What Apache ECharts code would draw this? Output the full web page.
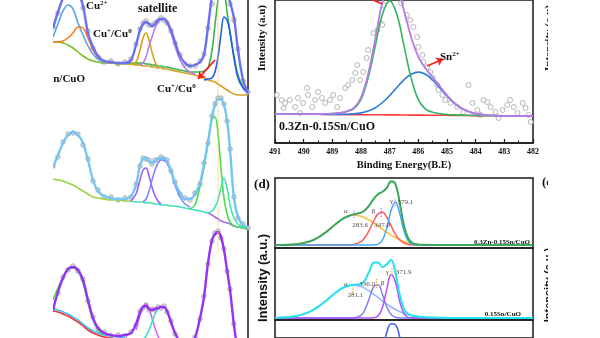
<!DOCTYPE html>
<html>
<head>
<meta charset="utf-8">
<script src="https://cdn.jsdelivr.net/npm/echarts@6/dist/echarts.min.js"></script>
<style>html,body{margin:0;padding:0;background:#ffffff;}#chart{width:600px;height:338px;}</style>
</head>
<body>
<div id="chart"></div>
<script>
// ===== Cu 2p XPS (left column): binding energy grid (eV) =====
const cuBE = [956.20,955.52,954.83,954.15,953.46,952.78,952.09,951.41,950.72,950.04,949.21,948.25,947.30,946.34,945.52,944.83,944.28,943.87,943.46,943.05,942.64,942.23,941.82,941.41,941.00,940.58,940.04,939.49,938.80,938.12,937.43,936.75,936.06,935.52,934.97,934.42,934.01,933.60,933.19,932.78,932.36,931.95,931.41,930.86,930.17,929.49];
const cuMainPeakBE = 933.6;

// spectrum A (0.3Zn-0.15Sn/CuO), intensities (a.u., stacked offset)
const A_fit   = [310,326,340,350,352,346,332,305,291,282,277,276,275,275,278,293,308,314,316,314,312,314,318,319,319,316,308,296,282,275,272,273,276,283,311,343,363,373,373,363,348,336,320,288,258,245];
const A_raw   = [311,325,null,null,null,null,330,307,290,281,276,277,274,276,279,294,309,315,317,313,313,315,317,320,318,315,307,295,283,274,272,272,277,284,310,334,null,null,null,null,null,334,318,289,257,246];
const A_cu2a  = [301,314,327,333,329,315,303,292,284,279,276,275];             // from index 0
const A_cu1a  = [296,296,297,300,305,311,310,300,288,281,277,275];             // from index 0
const A_bgL   = [296,296,295,293,290,286,282,279,277,276,275,275,274,274,274,274,273]; // from 0
const A_cu2b  = [275,275,275,275,275,274,274,273,273,272,272,271,271,270,269,268,267,266,266,266,267,270,288,313,338,353,348,326,306,282,263,251,246]; // from 13
const A_bgR   = [274,274,273,273,272,272,272,271,271,270,270,269,269,268,267,266,265,264,263,261,260,258,257,256,254,252,250,248,246,244,243,243,243]; // from 13
const A_cu1b  = [258,259,260,266,281,304,321,318,305,280,260,250,245];          // from 33
const A_sat1  = [274,276,288,300,305,298,286,276,271];                           // from 14
const A_sat2  = [273,275,281,292,301,310,316,319,319,315,305,292,278,270,266,264]; // from 16

// spectrum B
const B_fit   = [171,183,195,203,206,203,195,178,158,147,142,140,139,139,142,153,173,179,180,177,175,177,179,180,180,177,168,155,145,139,139,144,155,174,196,221,233,239,239,233,218,188,140,121,113,111];
const B_raw   = [172,181,196,204,205,204,193,179,157,148,141,141,138,140,141,154,172,180,179,178,174,178,178,181,179,178,167,156,144,140,138,145,154,175,195,222,234,240,240,234,217,189,141,120,114,110];
const B_main  = [129,133,152,171,195,219,221,205,170,140,124,116,112,111,110,109]; // from 30
const B_sub   = [125,127,131,138,150,160,150,133,120,114,111,110];              // from 34
const B_bg1   = [159,158,157,155,153,150,147,144,141,140,139,138,138,137,137];  // from 0
const B_bg2   = [137,136,136,136,135,135,135,134,134,133,133,133,132,132,131,130,129,128,127,126,125]; // from 14
const B_bg3   = [125,123,121,119,117,116,115,114,112,111,110,109];              // from 34
const B_sat1  = [137,144,158,168,170,162,151,142,137,134];                      // from 14
const B_sat2  = [136,139,147,158,168,175,178,178,175,166,153,141,134,131];      // from 17

// spectrum C
const C_fit   = [28,46,60,69,71,68,58,38,20,10,5,3,2,3,5,14,26,31,32,29,28,29,30,31,31,27,16,5,-4,-8,-7,0,20,41,75,98,104,106,101,88,68,48,13,-12,-22,-24];
const C_raw   = [29,45,61,68,72,67,59,37,21,9,6,2,3,2,6,13,27,30,33,28,29,28,31,30,32,26,17,4,null,null,null,1,19,42,74,97,105,107,100,89,67,49,14,null,null,null];
const C_cu2a  = [38,50,61,68,70,67,55,35,18,8,3];                 // from 0
const C_bgR   = [27,26,24,22,19,16,12,8,5,3,1,0,-1,-1];           // from 0
const C_bgB   = [29,28,26,24,21,18,14,10,7,5,3,2,1,0];            // from 0
const C_sat1  = [8,23,31,34,30,20,10,2,-4];                       // from 15
const C_sat2  = [-2,2,8,16,24,29,31,31,27,16,5,-4];               // from 17

// ===== Sn 3d5/2 (top middle) =====
const snBE   = [491,490,489.5,489,488.75,488.5,488.25,488,487.75,487.5,487.25,487,486.75,486.5,486.25,486,485.75,485.5,485.25,485,484.75,484.5,484,483,482];
const snBase = [29,28.8,28.7,28.6,28.5,28.4,28.4,28.3,28.3,28.2,28.2,28.1,28.1,28.0,27.9,27.9,27.8,27.8,27.7,27.7,27.6,27.6,27.4,27.2,27.0];
const snSn4  = [29,28.9,29.0,29.4,30.0,31.4,34.4,43.7,65.3,97.3,128.8,142.1,128.7,97.1,64.9,43.3,33.8,30.8,29.2,28.5,28.1,27.9,27.5,27.2,27.0];
const snSn2  = [29,28.8,28.7,28.6,28.6,28.7,29.2,30.1,32.0,35.3,40.5,47.4,55.5,63.2,68.8,70.9,68.7,63.0,55.1,47.0,39.9,34.7,29.2,27.2,27.0];
const snFit  = [29,28.9,29.0,29.4,30.0,31.7,35.2,45.5,69.0,104.4,141.1,161.4,156.1,132.3,105.8,86.2,74.7,65.8,56.6,47.8,40.4,35.0,29.3,27.2,27.0];
const snRawBE = [490.94,490.77,490.7,490.65,490.48,490.3,490.2,490.13,490.02,489.88,489.85,489.7,489.6,489.5,489.36,489.25,489.08,488.97,488.83,488.73,488.55,488.45,488.3,488.2,488.13,488.03,487.92,487.8,487.75,487.57,487.43,487.33,487.26,487.2,487.1,487.0,486.9,486.7,486.6,486.4,486.28,486.17,486.04,486.0,485.86,485.82,485.69,485.58,485.5,485.34,485.3,485.16,485.06,484.88,484.64,484.43,484.25,484.11,483.94,483.83,483.73,483.59,483.48,483.31,483.2,483.06,482.9,482.8,482.67,482.54,482.36,482.26,482.15,482.08];
const snRawI  = [48,43,35,40,43,36,45,30,40,55,48,36,43,51,45,40,43,48,36,45,55,58,63,70,78,63,71,85,93,110,113,120,118,138,150,158,152,150,140,128,123,116,106,96,88,81,76,71,65,58,53,48,43,40,36,31,58,40,33,28,43,41,36,31,25,33,38,43,36,30,40,35,28,21];
const snTicks = [491,490,489,488,487,486,485,484,483,482];

// ===== H2-TPR (bottom middle, panel d), temperature (°C) =====
const tprT = [100,150,180,200,220,240,260,280,300,310,320,330,340,350,360,370,380,390,400,410,420,430,440,460,500,600,700];
const d1_alpha = [3.0,3.8,6.5,10.4,16.4,23.5,29.8,33.0,31.8,30.0,27.6,24.8,21.7,18.6,15.6,12.9,10.5,8.6,6.5,5.2,4.3,3.7,3.3,3.1,3.0,3.0,3.0];
const d1_beta  = [3,3,3,3,3,3,3.0,3.3,6.4,11.0,18.5,27.5,34.4,35.7,30.7,22.1,13.7,7.9,4.8,3.5,3.1,3,3,3,3,3,3];
const d1_gamma = [3,3,3,3,3,3,3,3,3,3,3,3.1,3.9,8.0,19.9,37.8,46.0,34.8,17.1,6.8,3.6,3.0,3,3,3,3,3];
const d1_fit   = [3.0,3.8,6.5,10.4,16.4,23.5,29.8,33.3,35.2,38.0,43.1,49.4,54.0,56.3,60.2,66.8,64.2,45.3,22.4,9.5,5.0,3.7,3.3,3.1,3.0,3.0,3.0];
const d2_alpha = [2.1,3.9,8.1,13.2,19.8,27.0,32.7,35.0,33.4,31.4,28.7,25.7,22.4,19.1,15.9,13.0,10.5,8.4,6.6,5.3,4.3,3.5,3.0,2.5,2.1,2.0,2.0];
const d2_beta  = [2,2,2,2,2,2,2,2.1,4.7,11.1,22.6,33.7,35.0,25.2,13.0,5.6,2.8,2.1,2,2,2,2,2,2,2,2,2];
const d2_gamma = [2,2,2,2,2,2,2,2,2,2,2,2.2,4.2,12.6,30.9,45.5,38.2,18.7,6.3,2.6,2.0,2,2,2,2,2,2];
const d2_fit   = [2.1,3.9,8.1,13.2,19.8,27.0,32.7,35.1,36.1,40.5,49.3,57.6,57.6,52.9,55.8,60.1,47.5,25.2,10.9,5.9,4.3,3.5,3.0,2.5,2.1,2.0,2.0];
const d3_main  = [2,2,2,2,2,2,2,2,2,2,2,8,20,38,57,66,65,52,32,16,6,3,2,2,2,2,2];
const d1_peaks = [283.6,347.0,379.1];
const d2_peaks = [281.1,336.0,371.9];
const greek = ['α','β','γ'];

// ================= build =================
const SERIF = '"Liberation Serif","Times New Roman",serif';
const SANS = '"Liberation Sans",Arial,sans-serif';
const series = [];

function cuSeg(start, vals){ return vals.map((v,i)=>[cuBE[start+i], v]); }
function addCu(start, vals, color, width, z){
  series.push({type:'line', xAxisIndex:0, yAxisIndex:0, data:cuSeg(start, vals), smooth:0.35, symbol:'none',
    lineStyle:{color:color, width:width}, z:z||3, silent:true});
}
function addCuRaw(vals){
  series.push({type:'scatter', xAxisIndex:0, yAxisIndex:0, data:cuSeg(0, vals).filter(d=>d[1]!==null),
    symbol:'circle', symbolSize:4.5, itemStyle:{color:'#d8d8d8', borderColor:'#8c8c8c', borderWidth:0.8}, z:2, silent:true});
}
// A
addCuRaw(A_raw);
addCu(0, A_bgL, '#7fbd2a', 1.6);
addCu(13, A_bgR, '#d3a024', 1.6);
addCu(13, A_cu2b, '#3cb44b', 1.6);
addCu(0, A_cu2a, '#5aa2e8', 1.6);
addCu(0, A_cu1a, '#ff7a1a', 1.6);
addCu(14, A_sat1, '#d8a318', 1.6);
addCu(16, A_sat2, '#b57ef0', 1.6);
addCu(33, A_cu1b, '#1f5fe8', 1.6);
addCu(0, A_fit, '#6c6ff2', 2.4, 5);
// B
addCuRaw(B_raw);
addCu(0, B_bg1, '#9ad43c', 1.6);
addCu(14, B_bg2, '#40e0b8', 1.6);
addCu(34, B_bg3, '#a565f5', 1.6);
addCu(14, B_sat1, '#a45cf5', 1.6);
addCu(17, B_sat2, '#7f86ff', 1.6);
addCu(30, B_main, '#4cdc4c', 1.6);
addCu(34, B_sub, '#40e8b0', 1.6);
addCu(0, B_fit, '#72c6f6', 2.4, 5);
// C
addCuRaw(C_raw);
addCu(0, C_bgB, '#35c4ff', 1.6);
addCu(0, C_bgR, '#ee3434', 1.6);
addCu(0, C_cu2a, '#49d849', 1.6);
addCu(15, C_sat1, '#cf6cf8', 1.6);
addCu(17, C_sat2, '#3fe0c4', 1.6);
addCu(0, C_fit, '#9631f8', 2.4, 5);
// reference line at Cu 2p3/2 main peak
series.push({type:'line', xAxisIndex:0, yAxisIndex:0, data:[[cuMainPeakBE,85],[cuMainPeakBE,338]], symbol:'none',
  lineStyle:{color:'#f6c444', width:1.1, type:'dotted'}, z:6, silent:true});
// arrow Cu+/Cu0
series.push({type:'lines', coordinateSystem:'cartesian2d', xAxisIndex:0, yAxisIndex:0, symbol:['none','arrow'], symbolSize:7,
  lineStyle:{color:'#ff1a1a', width:1.8, curveness:0, opacity:1}, data:[{coords:[[934.01,278],[936.34,259]]}], z:7, silent:true});

// Sn panel
function snZip(vals){ return vals.map((v,i)=>[snBE[i], v]); }
series.push({type:'scatter', xAxisIndex:1, yAxisIndex:1, data:snRawBE.map((x,i)=>[x, snRawI[i]]), symbol:'circle', symbolSize:5,
  itemStyle:{color:'#ffffff', borderColor:'#9a9a9a', borderWidth:0.9}, z:2, silent:true});
series.push({type:'line', xAxisIndex:1, yAxisIndex:1, data:snZip(snBase), symbol:'none', smooth:0.3, lineStyle:{color:'#ff3b3b', width:1.6}, z:3, silent:true});
series.push({type:'line', xAxisIndex:1, yAxisIndex:1, data:snZip(snSn2), symbol:'none', smooth:0.4, lineStyle:{color:'#2b7bd8', width:1.6}, z:3, silent:true});
series.push({type:'line', xAxisIndex:1, yAxisIndex:1, data:snZip(snSn4), symbol:'none', smooth:0.4, lineStyle:{color:'#2fb561', width:1.6}, z:3, silent:true});
series.push({type:'line', xAxisIndex:1, yAxisIndex:1, data:snZip(snFit), symbol:'none', smooth:0.4, lineStyle:{color:'#b77ae6', width:1.8}, z:4, silent:true});
series.push({type:'lines', coordinateSystem:'cartesian2d', xAxisIndex:1, yAxisIndex:1, symbol:['none','none'],
  lineStyle:{color:'#ff1a1a', width:1.8, curveness:0, opacity:1}, data:[{coords:[[488.03,149],[487.26,139]]}], z:7, silent:true});
series.push({type:'lines', coordinateSystem:'cartesian2d', xAxisIndex:1, yAxisIndex:1, symbol:['none','arrow'], symbolSize:7,
  lineStyle:{color:'#ff1a1a', width:1.8, curveness:0, opacity:1}, data:[{coords:[[485.69,77],[485.13,84]]}], z:7, silent:true});

// TPR panel
function tZip(vals){ return vals.map((v,i)=>[tprT[i], v]); }
function addT(idx, vals, color, width, z){
  series.push({type:'line', xAxisIndex:idx, yAxisIndex:idx, data:tZip(vals), symbol:'none', smooth:0.4,
    lineStyle:{color:color, width:width}, z:z||3, silent:true});
}
addT(2, d1_alpha, '#f2c23c', 1.5);
addT(2, d1_beta, '#ff5a5a', 1.5);
addT(2, d1_gamma, '#3fa9f5', 1.5);
addT(2, d1_fit, '#3aa85a', 2, 4);
addT(3, d2_alpha, '#8fb6ff', 1.5);
addT(3, d2_beta, '#8080ff', 1.5);
addT(3, d2_gamma, '#b050ff', 1.5);
addT(3, d2_fit, '#22e3f0', 2, 4);
addT(4, d3_main, '#4a62f0', 1.6);

// peak markers and labels
const d1Mark = [[30,38],[31,41],[42,50]];
const d2Mark = [[25,33],[32,42],[45,52]];
function addMarkers(idx, peaks, ranges, color){
  peaks.forEach((t,i)=>{
    series.push({type:'line', xAxisIndex:idx, yAxisIndex:idx, data:[[t,ranges[i][0]],[t,ranges[i][1]]], symbol:'none',
      lineStyle:{color:color, width:1.3, type:'dotted'}, z:6, silent:true});
  });
}
addMarkers(2, d1_peaks, d1Mark, '#c070ff');
addMarkers(3, d2_peaks, d2Mark, '#f0a030');
const d1GreekPos = [[265,37],[329,37],[371,47]];
const d1ValPos = [[298,23],[349,23],[403,46]];
const d2GreekPos = [[265,36],[350,37],[361,48]];
const d2ValPos = [[287,25],[314,36],[399,48]];
function addLabels(idx, peaks, gPos, vPos){
  const data = [];
  peaks.forEach((t,i)=>{
    data.push({value:gPos[i], name:greek[i]});
    data.push({value:vPos[i], name:t.toFixed(1)});
  });
  series.push({type:'scatter', xAxisIndex:idx, yAxisIndex:idx, data:data, symbolSize:1, itemStyle:{color:'rgba(0,0,0,0)'},
    label:{show:true, position:'inside', formatter:'{b}', fontFamily:SERIF, fontSize:7, color:'#222'}, z:10, silent:true});
}
addLabels(2, d1_peaks, d1GreekPos, d1ValPos);
addLabels(3, d2_peaks, d2GreekPos, d2ValPos);

// text helpers
function txt(x, y, text, font, align, extra){
  const st = {text:text, font:font, fill:'#111', align:align||'left', verticalAlign:'middle', textAlign:align||'left', textVerticalAlign:'middle'};
  if (extra) Object.assign(st, extra);
  return {type:'text', x:x, y:y, z:50, silent:true, style:st};
}
function rot(x, y, text, font){
  const e = txt(x, y, text, font, 'center');
  e.rotation = Math.PI/2;
  return e;
}
function supRich(size){
  return {
    a:{font:'bold '+size+'px '+SERIF, fill:'#111', color:'#111', lineHeight:size+2},
    s:{font:'bold '+Math.round(size*0.62)+'px '+SERIF, fill:'#111', color:'#111', lineHeight:Math.round(size*0.7), verticalAlign:'top'}
  };
}
const graphics = [
  txt(86, 6, '{a|Cu}{s|2+}', 'bold 11px '+SERIF, 'left', {rich:supRich(11)}),
  txt(138, 9, 'satellite', 'bold 12px '+SERIF),
  txt(93, 34, '{a|Cu}{s|+}{a|/Cu}{s|0}', 'bold 11px '+SERIF, 'left', {rich:supRich(11)}),
  txt(157, 89, '{a|Cu}{s|+}{a|/Cu}{s|0}', 'bold 11px '+SERIF, 'left', {rich:supRich(11)}),
  txt(85, 79, '0.3Zn-0.15Sn/CuO', 'bold 11px '+SERIF, 'right'),
  rot(262, 38, 'Intensity (a.u)', 'bold 11px '+SERIF),
  txt(279, 127, '0.3Zn-0.15Sn/CuO', 'bold 12px '+SERIF),
  txt(440, 57, '{a|Sn}{s|2+}', 'bold 11px '+SERIF, 'left', {rich:supRich(11)}),
  txt(262, 185, '(d)', 'bold 13px '+SERIF, 'center'),
  rot(263, 278, 'Intensity (a.u.)', 'bold 13px '+SANS),
  txt(530, 242, '0.3Zn-0.15Sn/CuO', 'bold 7px '+SERIF, 'right'),
  txt(521, 314, '0.15Sn/CuO', 'bold 7px '+SERIF, 'right'),
  rot(549, 38, 'Intensity (a.u)', 'bold 11px '+SERIF),
  txt(542, 183, '(e)', 'bold 13px '+SERIF),
  rot(549, 285, 'Intensity (a.u.)', 'bold 11px '+SANS),
  {type:'rect', z:100, silent:true, shape:{x:0, y:0, width:53, height:338}, style:{fill:'#ffffff'}},
  {type:'rect', z:100, silent:true, shape:{x:548, y:0, width:52, height:338}, style:{fill:'#ffffff'}}
];

const frame = {show:true, borderColor:'#1a1a1a', borderWidth:1.5, backgroundColor:'transparent'};
const option = {
  animation:false,
  backgroundColor:'#ffffff',
  grid:[
    {left:53, right:352, top:0, bottom:0},
    Object.assign({left:275, right:67, top:0, bottom:195}, frame),
    Object.assign({left:275, right:67, top:178, height:70}, frame),
    Object.assign({left:275, right:67, top:248, height:72}, frame),
    Object.assign({left:275, right:67, top:320, height:19}, frame)
  ],
  xAxis:[
    {gridIndex:0, type:'value', min:929.49, max:956.2, inverse:true, show:false},
    {gridIndex:1, type:'value', min:snTicks[snTicks.length-1], max:snTicks[0], interval:1, inverse:true,
      axisLine:{show:true, lineStyle:{color:'#1a1a1a', width:1.5}},
      axisTick:{show:true, inside:true, length:4, lineStyle:{color:'#1a1a1a', width:1.2}},
      minorTick:{show:true, splitNumber:2, length:2.5, lineStyle:{color:'#1a1a1a', width:1}},
      axisLabel:{fontFamily:SERIF, fontWeight:'bold', fontSize:8, color:'#111', margin:5},
      splitLine:{show:false},
      name:'Binding Energy(B.E)', nameLocation:'middle', nameGap:17,
      nameTextStyle:{fontFamily:SERIF, fontWeight:'bold', fontSize:10.5, color:'#111'}},
    {gridIndex:2, type:'value', min:100, max:700, show:false},
    {gridIndex:3, type:'value', min:100, max:700, show:false},
    {gridIndex:4, type:'value', min:100, max:700, show:false}
  ],
  yAxis:[
    {gridIndex:0, type:'value', min:0, max:338, position:'right',
      axisLine:{show:true, lineStyle:{color:'#1a1a1a', width:1.5}}, axisTick:{show:false}, axisLabel:{show:false}, splitLine:{show:false}},
    {gridIndex:1, type:'value', min:0, max:143, show:false},
    {gridIndex:2, type:'value', min:0, max:70, show:false},
    {gridIndex:3, type:'value', min:0, max:72, show:false},
    {gridIndex:4, type:'value', min:51, max:70, show:false}
  ],
  graphic:graphics,
  series:series
};
const chart = echarts.init(document.getElementById('chart'), null, {renderer:'canvas'});
chart.setOption(option);
</script>
</body>
</html>
